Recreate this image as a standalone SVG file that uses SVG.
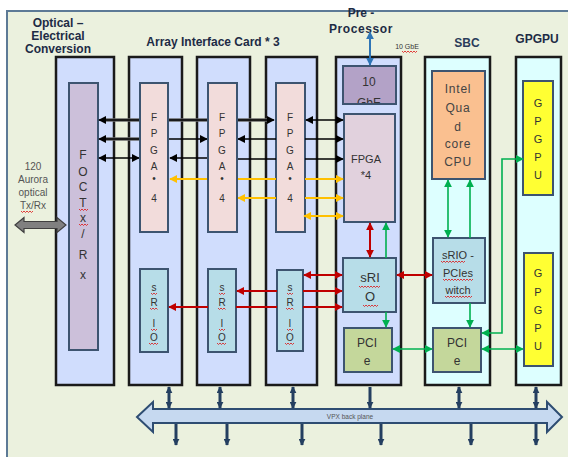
<svg xmlns="http://www.w3.org/2000/svg" width="568" height="457" viewBox="0 0 568 457">
<style>
.card{fill:#d0ddfd;stroke:#1a1a1a;stroke-width:2.5}
.card2{fill:#ddffff;stroke:#1a1a1a;stroke-width:2.5}
.inner{stroke:#3d5470;stroke-width:2}
.t{font-family:"Liberation Sans",Arial,sans-serif;fill:#333;text-anchor:middle}
.title{font-family:"Liberation Sans",Arial,sans-serif;font-weight:bold;font-size:12px;fill:#1d2b45;text-anchor:middle}
.k{stroke:#000;stroke-width:1.5;fill:none}
.kg{stroke:#6a6a6a;stroke-width:3.5;fill:none}
.y{stroke:#ffc000;stroke-width:2;fill:none}
.r{stroke:#c00000;stroke-width:2;fill:none}
.g{stroke:#00b050;stroke-width:1.6;fill:none}
.b{stroke:#2e75b6;stroke-width:2;fill:none}
.nav{stroke:#243f60;stroke-width:3;fill:none}
.sq{stroke:#e01010;stroke-width:0.8;fill:none}
</style>
<defs>
<marker id="mk" viewBox="0 0 10 10" refX="9" refY="5" markerWidth="8" markerHeight="8" markerUnits="userSpaceOnUse" orient="auto-start-reverse"><path d="M0,0 L10,5 L0,10 z" fill="#000"/></marker>
<marker id="my" viewBox="0 0 10 10" refX="9" refY="5" markerWidth="8" markerHeight="8" markerUnits="userSpaceOnUse" orient="auto-start-reverse"><path d="M0,0 L10,5 L0,10 z" fill="#ffc000"/></marker>
<marker id="mr" viewBox="0 0 10 10" refX="9" refY="5" markerWidth="8" markerHeight="8" markerUnits="userSpaceOnUse" orient="auto-start-reverse"><path d="M0,0 L10,5 L0,10 z" fill="#c00000"/></marker>
<marker id="mg" viewBox="0 0 10 10" refX="9" refY="5" markerWidth="8" markerHeight="8" markerUnits="userSpaceOnUse" orient="auto-start-reverse"><path d="M0,0 L10,5 L0,10 z" fill="#00b050"/></marker>
<marker id="mb" viewBox="0 0 10 10" refX="9" refY="5" markerWidth="8" markerHeight="8" markerUnits="userSpaceOnUse" orient="auto-start-reverse"><path d="M0,0 L10,5 L0,10 z" fill="#2e75b6"/></marker>
<marker id="mn" viewBox="0 0 10 10" refX="9" refY="5" markerWidth="7" markerHeight="7" markerUnits="userSpaceOnUse" orient="auto-start-reverse"><path d="M0,0 L10,5 L0,10 z" fill="#243f60"/></marker>
<clipPath id="cg"><rect x="343" y="66" width="53" height="37"/></clipPath>
</defs>

<rect x="0" y="0" width="568" height="457" fill="#ffffff"/>
<rect x="7" y="11" width="575" height="460" fill="#ebf1de" stroke="#5d7a96" stroke-width="2"/>

<!-- titles -->
<g id="titles">
<text class="title" x="58" y="27">Optical –</text>
<text class="title" x="58" y="40">Electrical</text>
<text class="title" x="58" y="53">Conversion</text>
<text class="title" x="213" y="46">Array Interface Card * 3</text>
<text class="title" x="361" y="17">Pre -</text>
<text class="title" x="361" y="33" letter-spacing="0.6">Processor</text>
<text class="title" x="467" y="47" font-size="12.5" style="fill:#2a3b5a">SBC</text>
<text class="title" x="537" y="43" font-size="12.5">GPGPU</text>
<text class="t" x="407" y="49" font-size="7">10 GbE</text>
<path class="sq" d="M402,51 l1.5,1.5 l1.5,-1.5 l1.5,1.5 l1.5,-1.5 l1.5,1.5 l1.5,-1.5 l1.5,1.5 l1.5,-1.5 l1.5,1.5 l1.5,-1.5"/>
<text class="t" x="33" y="170" font-size="10" style="fill:#555">120</text>
<text class="t" x="33" y="183" font-size="10" style="fill:#555">Aurora</text>
<text class="t" x="33" y="196" font-size="10" style="fill:#555">optical</text>
<text class="t" x="33" y="209" font-size="10" style="fill:#555">Tx/Rx</text>
<path class="sq" d="M21,211 l1.5,1.5 l1.5,-1.5 l1.5,1.5 l1.5,-1.5 l1.5,1.5 l1.5,-1.5 l1.5,1.5 l1.5,-1.5"/>
</g>

<!-- Optical-Electrical conversion card -->
<g id="optical">
<rect class="card" x="56" y="57" width="58" height="328"/>
<rect class="inner" x="69" y="83" width="29" height="267" fill="#ccc0da"/>
<g class="t" font-size="12">
<text x="83" y="159">F</text><text x="83" y="176">O</text><text x="83" y="191">C</text><text x="83" y="207">T</text>
<text x="83" y="222">x</text><text x="83" y="238">/</text><text x="83" y="259">R</text><text x="83" y="279">x</text>
</g>
<path class="sq" d="M79,209 l1.5,1.5 l1.5,-1.5 l1.5,1.5 l1.5,-1.5 l1.5,1.5 l1.5,-1.5 M79,224 l1.5,1.5 l1.5,-1.5 l1.5,1.5 l1.5,-1.5 l1.5,1.5 l1.5,-1.5"/>
</g>

<!-- Array Interface Cards -->
<g id="aic1">
<rect class="card" x="129" y="57" width="53" height="328"/>
<rect class="inner" x="140" y="269" width="28" height="83" fill="#b7dde8"/>
</g>
<g id="aic2">
<rect class="card" x="197" y="57" width="53" height="328"/>
<rect class="inner" x="208" y="269" width="28" height="83" fill="#b7dde8"/>
</g>
<g id="aic3">
<rect class="card" x="266" y="57" width="51" height="328"/>
<rect class="inner" x="276" y="83" width="29" height="149" fill="#f2dcdb"/>
<rect class="inner" x="277" y="270" width="26" height="81" fill="#b7dde8"/>
</g>

<!-- Pre-processor -->
<g id="preproc">
<rect class="card" x="336" y="57" width="65" height="328"/>
<rect class="inner" x="343" y="66" width="53" height="38" fill="#b3a2c7"/>
<text class="t" x="369" y="86" font-size="12">10</text>
<text class="t" x="369" y="107" font-size="12" clip-path="url(#cg)">GbE</text>
<rect class="inner" x="344" y="114" width="51" height="108" fill="#e1d1dd"/>
<text class="t" x="366" y="163" font-size="11">FPGA</text>
<text class="t" x="366" y="179" font-size="11">*4</text>
<rect class="inner" x="343" y="258" width="53" height="54" fill="#b7dde8"/>
<text class="t" x="370" y="282" font-size="13">sRI</text>
<text class="t" x="370" y="301" font-size="13">O</text>
<path class="sq" d="M359,286 l1.5,1.5 l1.5,-1.5 l1.5,1.5 l1.5,-1.5 l1.5,1.5 l1.5,-1.5 l1.5,1.5 l1.5,-1.5 l1.5,1.5 l1.5,-1.5 l1.5,1.5 l1.5,-1.5 l1.5,1.5 l1.5,-1.5 M363,305 l1.5,1.5 l1.5,-1.5 l1.5,1.5 l1.5,-1.5 l1.5,1.5 l1.5,-1.5 l1.5,1.5 l1.5,-1.5 l1.5,1.5 l1.5,-1.5"/>
<rect class="inner" x="344" y="328" width="48" height="44" fill="#c4d79b"/>
<text class="t" x="367" y="347" font-size="12">PCI</text>
<text class="t" x="367" y="365" font-size="12">e</text>
</g>

<!-- SBC -->
<g id="sbc">
<rect class="card2" x="425" y="57" width="65" height="328"/>
<rect class="inner" x="432" y="71" width="53" height="108" fill="#fac090"/>
<g class="t" font-size="12" letter-spacing="0.8" style="fill:#444">
<text x="458" y="93">Intel</text><text x="458" y="112">Qua</text><text x="458" y="131">d</text><text x="458" y="148">core</text><text x="458" y="166">CPU</text>
</g>
<rect class="inner" x="433" y="238" width="52" height="65" fill="#b7dde8"/>
<g class="t" font-size="11">
<text x="458" y="259">sRIO -</text><text x="458" y="277">PCIes</text><text x="458" y="294">witch</text>
</g>
<path class="sq" d="M441,261 l1.5,1.5 l1.5,-1.5 l1.5,1.5 l1.5,-1.5 l1.5,1.5 l1.5,-1.5 l1.5,1.5 l1.5,-1.5 l1.5,1.5 l1.5,-1.5 l1.5,1.5 l1.5,-1.5 l1.5,1.5 l1.5,-1.5 l1.5,1.5 l1.5,-1.5 M443,279 l1.5,1.5 l1.5,-1.5 l1.5,1.5 l1.5,-1.5 l1.5,1.5 l1.5,-1.5 l1.5,1.5 l1.5,-1.5 l1.5,1.5 l1.5,-1.5 l1.5,1.5 l1.5,-1.5 l1.5,1.5 l1.5,-1.5 l1.5,1.5 l1.5,-1.5 l1.5,1.5 l1.5,-1.5 l1.5,1.5 l1.5,-1.5 M445,296 l1.5,1.5 l1.5,-1.5 l1.5,1.5 l1.5,-1.5 l1.5,1.5 l1.5,-1.5 l1.5,1.5 l1.5,-1.5 l1.5,1.5 l1.5,-1.5 l1.5,1.5 l1.5,-1.5 l1.5,1.5 l1.5,-1.5 l1.5,1.5 l1.5,-1.5 l1.5,1.5 l1.5,-1.5"/>
<rect class="inner" x="433" y="328" width="48" height="44" fill="#c4d79b"/>
<text class="t" x="457" y="347" font-size="12">PCI</text>
<text class="t" x="457" y="365" font-size="12">e</text>
</g>

<!-- GPGPU card -->
<g id="gpgpu">
<rect class="card2" x="516" y="57" width="45" height="328"/>
<rect class="inner" x="523" y="81" width="30" height="114" fill="#ffff33"/>
<g class="t" font-size="11">
<text x="538" y="107">G</text><text x="538" y="125">P</text><text x="538" y="143">G</text><text x="538" y="161">P</text><text x="538" y="179">U</text>
</g>
<rect class="inner" x="524" y="253" width="29" height="113" fill="#ffff33"/>
<g class="t" font-size="11">
<text x="538" y="277">G</text><text x="538" y="296">P</text><text x="538" y="314">G</text><text x="538" y="332">P</text><text x="538" y="350">U</text>
</g>
</g>

<!-- connectors -->
<g id="connectors">
<path d="M15,225 L24,217.5 L24,221.5 L57,221.5 L57,217.5 L66,225 L57,232.5 L57,228.5 L24,228.5 L24,232.5 Z" fill="#808080" stroke="#404040" stroke-width="1.2"/>
<line class="b" x1="370" y1="32" x2="370" y2="65" marker-start="url(#mb)" marker-end="url(#mb)"/>
<line class="kg" x1="104" y1="120" x2="268" y2="120"/>
<line class="k" x1="99" y1="120" x2="274" y2="120" marker-start="url(#mk)" marker-end="url(#mk)"/>
<line class="k" x1="306" y1="120" x2="343" y2="120" marker-start="url(#mk)" marker-end="url(#mk)"/>
<line class="kg" x1="104" y1="139" x2="140" y2="139"/>
<line class="k" x1="99" y1="139" x2="140" y2="139" marker-start="url(#mk)"/>
<line class="k" x1="168" y1="139" x2="207" y2="139" marker-end="url(#mk)"/>
<line class="k" x1="276" y1="139" x2="238" y2="139" marker-end="url(#mk)"/>
<line class="k" x1="305" y1="139" x2="343" y2="139" marker-end="url(#mk)"/>
<line class="k" x1="99" y1="158" x2="139" y2="158" marker-start="url(#mk)" marker-end="url(#mk)"/>
<line class="k" x1="208" y1="158" x2="170" y2="158" marker-end="url(#mk)"/>
<line class="k" x1="237" y1="159" x2="276" y2="159"/>
<line class="k" x1="305" y1="159" x2="343" y2="159" marker-end="url(#mk)"/>
<line class="y" x1="208" y1="179" x2="170" y2="179" marker-end="url(#my)"/>
<line class="y" x1="237" y1="179" x2="276" y2="179"/>
<line class="y" x1="305" y1="179" x2="343" y2="179" marker-end="url(#my)"/>
<line class="y" x1="276" y1="198" x2="238" y2="198" marker-end="url(#my)"/>
<line class="y" x1="305" y1="198" x2="343" y2="198" marker-end="url(#my)"/>
<line class="y" x1="304" y1="216" x2="343" y2="216" marker-start="url(#my)" marker-end="url(#my)"/>
<line class="r" x1="370" y1="223" x2="370" y2="257" marker-start="url(#mr)" marker-end="url(#mr)"/>
<line class="r" x1="304" y1="275" x2="342" y2="275" marker-start="url(#mr)" marker-end="url(#mr)"/>
<line class="r" x1="277" y1="291" x2="237" y2="291" marker-end="url(#mr)"/>
<line class="r" x1="303" y1="291" x2="342" y2="291" marker-end="url(#mr)"/>
<line class="r" x1="208" y1="307" x2="169" y2="307" marker-end="url(#mr)"/>
<line class="r" x1="236" y1="307" x2="277" y2="307"/>
<line class="r" x1="303" y1="307" x2="342" y2="307" marker-end="url(#mr)"/>
<line class="r" x1="397" y1="275" x2="432" y2="275" marker-start="url(#mr)" marker-end="url(#mr)"/>
<line class="g" x1="386" y1="258" x2="386" y2="223" marker-end="url(#mg)"/>
<line class="g" x1="386" y1="312" x2="386" y2="327" marker-end="url(#mg)"/>
<line class="g" x1="448" y1="180" x2="448" y2="237" marker-start="url(#mg)" marker-end="url(#mg)"/>
<line class="g" x1="470" y1="238" x2="470" y2="180" marker-end="url(#mg)"/>
<line class="g" x1="470" y1="303" x2="470" y2="327" marker-end="url(#mg)"/>
<polyline class="g" points="482,333 502,333 502,159 523,159" marker-start="url(#mg)" marker-end="url(#mg)"/>
<line class="g" x1="393" y1="349" x2="432" y2="349" marker-start="url(#mg)" marker-end="url(#mg)"/>
<line class="g" x1="482" y1="349" x2="523" y2="349" marker-start="url(#mg)" marker-end="url(#mg)"/>
<path d="M137,417 L153,402 L153,409 L547,409 L547,402 L562,417 L547,432 L547,423 L153,423 L153,432 Z" fill="#c6d9f0" stroke="#2e4d72" stroke-width="2"/>
<text class="t" x="350" y="419" font-size="6.5" style="fill:#555">VPX back plane</text>
<line class="nav" x1="169" y1="387" x2="169" y2="408" marker-start="url(#mn)" marker-end="url(#mn)"/>
<line class="nav" x1="220" y1="387" x2="220" y2="408" marker-start="url(#mn)" marker-end="url(#mn)"/>
<line class="nav" x1="293" y1="387" x2="293" y2="408" marker-start="url(#mn)" marker-end="url(#mn)"/>
<line class="nav" x1="370" y1="387" x2="370" y2="408" marker-end="url(#mn)"/>
<line class="nav" x1="459" y1="387" x2="459" y2="408" marker-start="url(#mn)" marker-end="url(#mn)"/>
<line class="nav" x1="536" y1="387" x2="536" y2="408" marker-start="url(#mn)" marker-end="url(#mn)"/>
<line class="nav" x1="176" y1="424" x2="176" y2="445" marker-end="url(#mn)"/>
<line class="nav" x1="227" y1="424" x2="227" y2="445" marker-end="url(#mn)"/>
<line class="nav" x1="302" y1="424" x2="302" y2="445" marker-end="url(#mn)"/>
<line class="nav" x1="381" y1="424" x2="381" y2="445" marker-end="url(#mn)"/>
<line class="nav" x1="471" y1="424" x2="471" y2="445" marker-end="url(#mn)"/>
<line class="nav" x1="536" y1="424" x2="536" y2="445" marker-end="url(#mn)"/>
</g>

<!-- AIC FPGA boxes drawn over the long row line, plus AIC labels -->
<g id="aic-fpgas">
<rect class="inner" x="140" y="83" width="28" height="149" fill="#f2dcdb"/>
<rect class="inner" x="208" y="83" width="29" height="149" fill="#f2dcdb"/>
<g class="t" font-size="10">
<text x="154" y="121">F</text><text x="154" y="137">P</text><text x="154" y="154">G</text><text x="154" y="170">A</text><text x="154" y="182">•</text><text x="154" y="202">4</text>
<text x="222" y="121">F</text><text x="222" y="137">P</text><text x="222" y="154">G</text><text x="222" y="170">A</text><text x="222" y="182">•</text><text x="222" y="202">4</text>
<text x="290" y="121">F</text><text x="290" y="137">P</text><text x="290" y="154">G</text><text x="290" y="170">A</text><text x="290" y="182">•</text><text x="290" y="202">4</text>
</g>
<g class="t" font-size="10">
<text x="154" y="291">s</text><text x="154" y="306">R</text><text x="154" y="327">I</text><text x="154" y="341">O</text>
<text x="222" y="291">s</text><text x="222" y="306">R</text><text x="222" y="327">I</text><text x="222" y="341">O</text>
<text x="290" y="291">s</text><text x="290" y="306">R</text><text x="290" y="327">I</text><text x="290" y="341">O</text>
</g>
<path class="sq" d="M151,293 l1.5,1.5 l1.5,-1.5 l1.5,1.5 l1.5,-1.5 M150,308 l1.5,1.5 l1.5,-1.5 l1.5,1.5 l1.5,-1.5 l1.5,1.5 M151,329 l1.5,1.5 l1.5,-1.5 l1.5,1.5 l1.5,-1.5 M149,343 l1.5,1.5 l1.5,-1.5 l1.5,1.5 l1.5,-1.5 l1.5,1.5 l1.5,-1.5 M219,293 l1.5,1.5 l1.5,-1.5 l1.5,1.5 l1.5,-1.5 M218,308 l1.5,1.5 l1.5,-1.5 l1.5,1.5 l1.5,-1.5 l1.5,1.5 M219,329 l1.5,1.5 l1.5,-1.5 l1.5,1.5 l1.5,-1.5 M217,343 l1.5,1.5 l1.5,-1.5 l1.5,1.5 l1.5,-1.5 l1.5,1.5 l1.5,-1.5 M287,293 l1.5,1.5 l1.5,-1.5 l1.5,1.5 l1.5,-1.5 M286,308 l1.5,1.5 l1.5,-1.5 l1.5,1.5 l1.5,-1.5 l1.5,1.5 M287,329 l1.5,1.5 l1.5,-1.5 l1.5,1.5 l1.5,-1.5 M285,343 l1.5,1.5 l1.5,-1.5 l1.5,1.5 l1.5,-1.5 l1.5,1.5 l1.5,-1.5"/>
</g>
</svg>
